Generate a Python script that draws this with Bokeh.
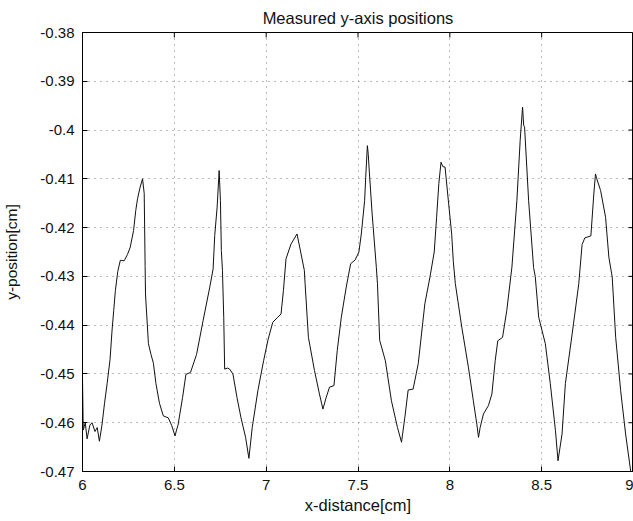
import math

from bokeh.plotting import figure
from bokeh.models import FixedTicker, CustomJSTickFormatter, Range1d
from bokeh.embed import file_html
from bokeh.resources import INLINE

# Measured y-position of the tracked point along the x travel [cm]
x_cm = [
    6.000, 6.004, 6.015, 6.025, 6.040, 6.052, 6.068, 6.080, 6.092, 6.106,
    6.120, 6.134, 6.150, 6.161, 6.170, 6.179, 6.192, 6.206, 6.227, 6.245,
    6.260, 6.278, 6.290, 6.300, 6.314, 6.327, 6.336, 6.341, 6.343, 6.359,
    6.373, 6.386, 6.400, 6.419, 6.440, 6.467, 6.486, 6.504, 6.512, 6.520,
    6.545, 6.563, 6.588, 6.621, 6.657, 6.693, 6.711, 6.720, 6.733, 6.744,
    6.751, 6.756, 6.762, 6.769, 6.774, 6.790, 6.801, 6.819, 6.841, 6.863,
    6.888, 6.906, 6.924, 6.955, 6.986, 7.010, 7.036, 7.060, 7.081, 7.094,
    7.108, 7.135, 7.168, 7.190, 7.208, 7.212, 7.230, 7.263, 7.290, 7.309,
    7.327, 7.345, 7.369, 7.387, 7.409, 7.436, 7.460, 7.485, 7.505, 7.518,
    7.536, 7.542, 7.551, 7.556, 7.560, 7.577, 7.600, 7.606, 7.618, 7.649,
    7.682, 7.715, 7.737, 7.755, 7.773, 7.800, 7.828, 7.864, 7.892, 7.915,
    7.928, 7.940, 7.952, 7.962, 7.974, 7.992, 8.010, 8.019, 8.030, 8.065,
    8.101, 8.128, 8.147, 8.156, 8.165, 8.183, 8.210, 8.229, 8.247, 8.261,
    8.287, 8.310, 8.338, 8.365, 8.383, 8.396, 8.402, 8.407, 8.429, 8.456,
    8.465, 8.484, 8.520, 8.547, 8.575, 8.589, 8.611, 8.629, 8.666, 8.702,
    8.720, 8.735, 8.768, 8.784, 8.793, 8.800, 8.821, 8.848, 8.866, 8.884,
    8.903, 8.930, 8.957, 8.985,
]
y_cm = [
    -0.4510, -0.4615, -0.4600, -0.4633, -0.4605, -0.4600, -0.4618, -0.4610, -0.4638, -0.4605,
    -0.4560, -0.4520, -0.4470, -0.4410, -0.4370, -0.4329, -0.4290, -0.4267, -0.4268, -0.4255,
    -0.4240, -0.4206, -0.4165, -0.4140, -0.4117, -0.4100, -0.4130, -0.4280, -0.4336, -0.4438,
    -0.4460, -0.4478, -0.4520, -0.4560, -0.4586, -0.4590, -0.4606, -0.4627, -0.4615, -0.4605,
    -0.4548, -0.4501, -0.4497, -0.4460, -0.4390, -0.4322, -0.4285, -0.4216, -0.4158, -0.4083,
    -0.4145, -0.4247, -0.4288, -0.4384, -0.4490, -0.4488, -0.4490, -0.4500, -0.4548, -0.4590,
    -0.4630, -0.4673, -0.4610, -0.4534, -0.4473, -0.4430, -0.4394, -0.4385, -0.4377, -0.4329,
    -0.4264, -0.4234, -0.4213, -0.4254, -0.4288, -0.4315, -0.4425, -0.4493, -0.4541, -0.4572,
    -0.4548, -0.4527, -0.4524, -0.4452, -0.4384, -0.4322, -0.4274, -0.4266, -0.4250, -0.4213,
    -0.4145, -0.4097, -0.4032, -0.4050, -0.4076, -0.4172, -0.4282, -0.4315, -0.4431, -0.4473,
    -0.4555, -0.4610, -0.4640, -0.4589, -0.4533, -0.4531, -0.4479, -0.4356, -0.4301, -0.4250,
    -0.4179, -0.4110, -0.4066, -0.4075, -0.4076, -0.4145, -0.4213, -0.4270, -0.4315, -0.4404,
    -0.4486, -0.4555, -0.4603, -0.4630, -0.4610, -0.4582, -0.4565, -0.4541, -0.4473, -0.4432,
    -0.4425, -0.4370, -0.4281, -0.4145, -0.4021, -0.3953, -0.3990, -0.3994, -0.4145, -0.4282,
    -0.4300, -0.4384, -0.4438, -0.4520, -0.4616, -0.4678, -0.4623, -0.4520, -0.4418, -0.4315,
    -0.4235, -0.4221, -0.4217, -0.4131, -0.4090, -0.4100, -0.4124, -0.4179, -0.4261, -0.4301,
    -0.4425, -0.4534, -0.4623, -0.4700,
]

x_ticks = [6, 6.5, 7, 7.5, 8, 8.5, 9]
y_ticks = [-0.47, -0.46, -0.45, -0.44, -0.43, -0.42, -0.41, -0.40, -0.39, -0.38]

X_MIN, X_MAX = 6, 9
Y_MIN, Y_MAX = -0.47, -0.38

FONT = "Liberation Sans"
FS = "15px"
FS_BIG = "16.5px"
INK = "#111111"

p = figure(width=633, height=521, output_backend="svg", toolbar_location=None,
           x_range=Range1d(X_MIN, X_MAX), y_range=Range1d(Y_MIN, Y_MAX),
           min_border_left=82, min_border_right=0, min_border_top=32,
           min_border_bottom=50, background_fill_color="white",
           border_fill_color="white", outline_line_color="black",
           title="Measured y-axis positions")

p.title.align = "center"
p.title.text_font = FONT
p.title.text_font_size = FS_BIG
p.title.text_font_style = "normal"
p.title.text_color = INK
p.title.standoff = 12

fmt = CustomJSTickFormatter(code="return String(Math.round(tick * 100) / 100);")

p.xaxis.ticker = FixedTicker(ticks=x_ticks)
p.xaxis.axis_label = "x-distance[cm]"
p.yaxis.ticker = FixedTicker(ticks=y_ticks)
p.yaxis.axis_label = "y-position[cm]"

for ax in p.xaxis + p.yaxis:
    ax.formatter = fmt
    ax.major_tick_in = 5
    ax.major_tick_out = 0
    ax.minor_tick_in = 0
    ax.minor_tick_out = 0
    ax.major_label_text_font = FONT
    ax.major_label_text_font_size = FS
    ax.major_label_text_color = INK
    ax.axis_label_text_font = FONT
    ax.axis_label_text_font_style = "normal"
    ax.axis_label_text_color = INK
    ax.axis_line_color = "black"
    ax.major_tick_line_color = "black"

p.xaxis.axis_label_text_font_size = FS_BIG
p.yaxis.axis_label_text_font_size = "15.5px"
p.xaxis.major_label_standoff = 8
p.xaxis.axis_label_standoff = 3
p.yaxis.major_label_standoff = 8
p.yaxis.axis_label_standoff = 17

# dotted grid at every major tick
p.xgrid.ticker = FixedTicker(ticks=x_ticks)
p.ygrid.ticker = FixedTicker(ticks=y_ticks)
for g in (p.xgrid, p.ygrid):
    g.grid_line_color = "#777777"
    g.grid_line_dash = "1 5"
    g.grid_line_width = 1

p.line(x_cm, y_cm, line_color=INK, line_width=1)

# inward tick marks on the top and right edges of the box (the half of each
# dash outside the frame is clipped away)
p.scatter(x_ticks, [Y_MAX] * len(x_ticks), marker="dash", size=10,
          angle=math.pi / 2, line_color="black", line_width=1)
p.scatter([X_MAX] * len(y_ticks), y_ticks, marker="dash", size=10,
          line_color="black", line_width=1)

open("out.html", "w").write(file_html(p, INLINE))
